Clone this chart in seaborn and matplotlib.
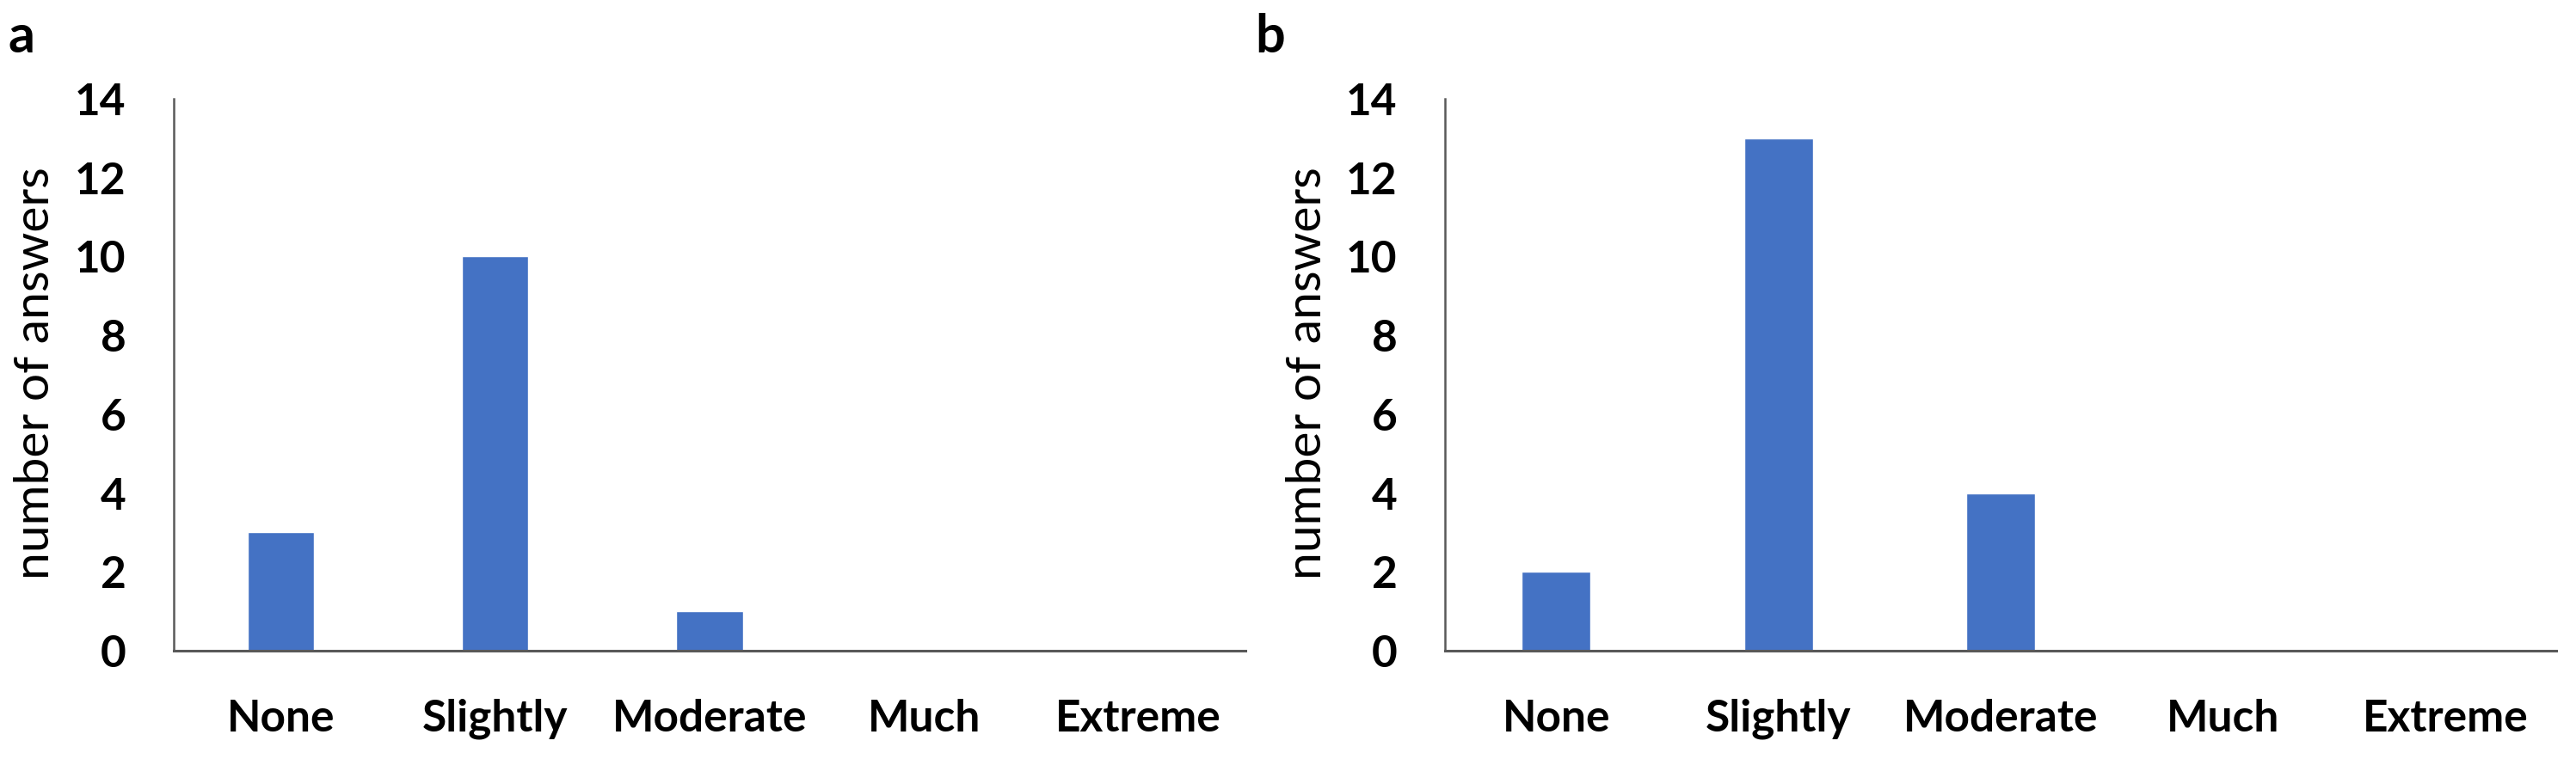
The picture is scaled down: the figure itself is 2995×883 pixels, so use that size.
import matplotlib
matplotlib.use("Agg")
import matplotlib.pyplot as plt
import seaborn as sns
import pandas as pd

categories = ["None", "Slightly", "Moderate", "Much", "Extreme"]
values_a = [3, 10, 1, 0, 0]
values_b = [2, 13, 4, 0, 0]
yticks = [0, 2, 4, 6, 8, 10, 12, 14]
panel_labels = ["a", "b"]
ylabel = "number of answers"

sns.set_theme(style="white")
plt.rcParams["font.family"] = ["Lato", "DejaVu Sans"]

W, H = 2995, 883
fig = plt.figure(figsize=(W / 100, H / 100), dpi=100)
fig.patch.set_facecolor("white")

axis_color = "#595959"
bar_color = "#4472C4"

# axes rectangles in pixels: (left, right), top=115, bottom=757
boxes = [(202, 1448), (1680, 2972)]
top_px, bot_px = 115, 757

for (x0, x1), vals, lab, lx in zip(boxes, [values_a, values_b], panel_labels, [25, 1477]):
    ax = fig.add_axes([x0 / W, (H - bot_px) / H, (x1 - x0) / W, (bot_px - top_px) / H])
    df = pd.DataFrame({"cat": categories, "val": vals})
    sns.barplot(data=df, x="cat", y="val", color=bar_color, saturation=1,
                width=0.31, ax=ax, order=categories)
    ax.set_xlim(-0.5, 4.5)
    ax.set_ylim(0, 14)
    ax.set_yticks(yticks)
    ax.set_yticklabels([str(t) for t in yticks], fontsize=37, fontweight="bold", color="black")
    ax.set_xticks(range(len(categories)))
    ax.set_xticklabels(categories, fontsize=37, fontweight="bold", color="black")
    ax.tick_params(axis="y", length=0, pad=40)
    ax.tick_params(axis="x", length=0, pad=40)
    ax.set_xlabel("")
    ax.set_ylabel("")
    for s in ["top", "right"]:
        ax.spines[s].set_visible(False)
    for s in ["left", "bottom"]:
        ax.spines[s].set_color(axis_color)
        ax.spines[s].set_linewidth(2.2)
    ax.spines["left"].set_linewidth(1.8)
    ax.set_facecolor("white")
    # y label
    fig.text((x0 - 160) / W, (H - 434) / H, ylabel, rotation=90, fontsize=41,
             ha="center", va="center", color="black")
    fig.text(lx / W, (H - 43) / H, lab, fontsize=44, fontweight="bold",
             ha="center", va="center", color="black")

fig.savefig("out.png", dpi=100, facecolor="white")
